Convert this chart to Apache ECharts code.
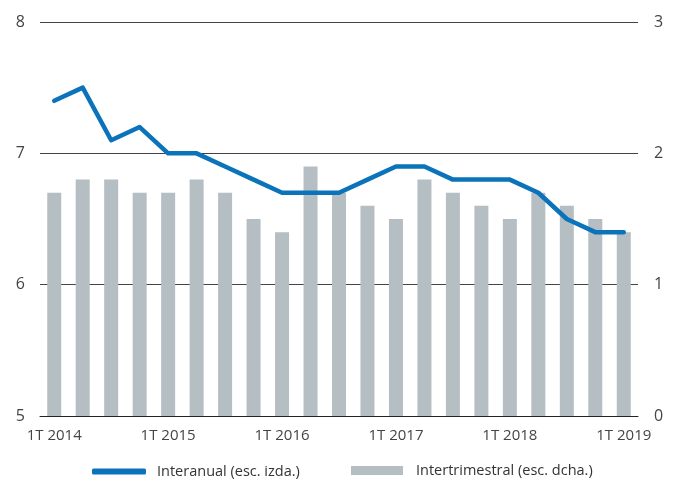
<!DOCTYPE html>
<html style="height: 100%">
<head>
    <meta charset="utf-8">
</head>
<body style="height: 100%; margin: 0">
    <div id="container" style="width: 678px; height: 481px"></div>
    <script type="text/javascript" src="https://cdn.jsdelivr.net/npm/echarts/dist/echarts.min.js"></script>
    <script type="text/javascript">
        var quarters = ['1T 2014', '2T 2014', '3T 2014', '4T 2014',
            '1T 2015', '2T 2015', '3T 2015', '4T 2015',
            '1T 2016', '2T 2016', '3T 2016', '4T 2016',
            '1T 2017', '2T 2017', '3T 2017', '4T 2017',
            '1T 2018', '2T 2018', '3T 2018', '4T 2018',
            '1T 2019'];
        // interanual, escala izquierda
        var interanual = [7.4, 7.5, 7.1, 7.2, 7.0, 7.0, 6.9, 6.8, 6.7, 6.7, 6.7,
            6.8, 6.9, 6.9, 6.8, 6.8, 6.8, 6.7, 6.5, 6.4, 6.4];
        // intertrimestral, escala derecha
        var intertrimestral = [1.7, 1.8, 1.8, 1.7, 1.7, 1.8, 1.7, 1.5, 1.4, 1.9, 1.7,
            1.6, 1.5, 1.8, 1.7, 1.6, 1.5, 1.7, 1.6, 1.5, 1.4];
        var leftTicks = [5, 8];
        var rightTicks = [0, 3];

        var dom = document.getElementById("container");
        var myChart = echarts.init(dom);
        var font = 'Open Sans';

        var option = {
            animation: false,
            textStyle: { fontFamily: font },
            grid: {
                top: 22,
                left: 40,
                right: 40,
                bottom: 65
            },
            legend: [{
                left: 92,
                top: 464,
                padding: 0,
                itemWidth: 54,
                itemHeight: 6,
                textStyle: { color: '#333', fontSize: 14.5, fontFamily: font, padding: [0, 0, 0, 6] },
                data: [{ name: 'Interanual (esc. izda.)', icon: 'roundRect' }]
            }, {
                left: 351,
                top: 463,
                padding: 0,
                itemWidth: 52,
                itemHeight: 9,
                textStyle: { color: '#333', fontSize: 14.5, fontFamily: font, padding: [0, 0, 0, 8] },
                data: [{ name: 'Intertrimestral (esc. dcha.)', icon: 'rect' }]
            }],
            xAxis: {
                type: 'category',
                data: quarters,
                boundaryGap: true,
                axisLine: { lineStyle: { color: '#222', width: 1 } },
                axisTick: {
                    inside: true,
                    length: 5,
                    interval: 3,
                    lineStyle: { color: '#222' }
                },
                axisLabel: {
                    interval: 3,
                    margin: 12,
                    color: '#444',
                    fontSize: 15
                }
            },
            yAxis: [{
                type: 'value',
                min: leftTicks[0],
                max: leftTicks[1],
                interval: 1,
                axisLine: { show: false },
                axisTick: { show: false },
                axisLabel: { margin: 15, color: '#444', fontSize: 16 },
                splitLine: { lineStyle: { color: '#444', width: 1 } }
            }, {
                type: 'value',
                min: rightTicks[0],
                max: rightTicks[1],
                interval: 1,
                axisLine: { show: false },
                axisTick: { show: false },
                axisLabel: { margin: 16, color: '#444', fontSize: 16 },
                splitLine: { show: false }
            }],
            series: [{
                name: 'Intertrimestral (esc. dcha.)',
                type: 'bar',
                yAxisIndex: 1,
                barWidth: 14,
                itemStyle: { color: '#b4bec3' },
                data: intertrimestral
            }, {
                name: 'Interanual (esc. izda.)',
                type: 'line',
                yAxisIndex: 0,
                symbol: 'none',
                lineStyle: { color: '#0a73b9', width: 4.5, cap: 'round', join: 'round' },
                itemStyle: { color: '#0a73b9' },
                data: interanual
            }]
        };
        myChart.setOption(option, true);
    </script>
</body>
</html>
